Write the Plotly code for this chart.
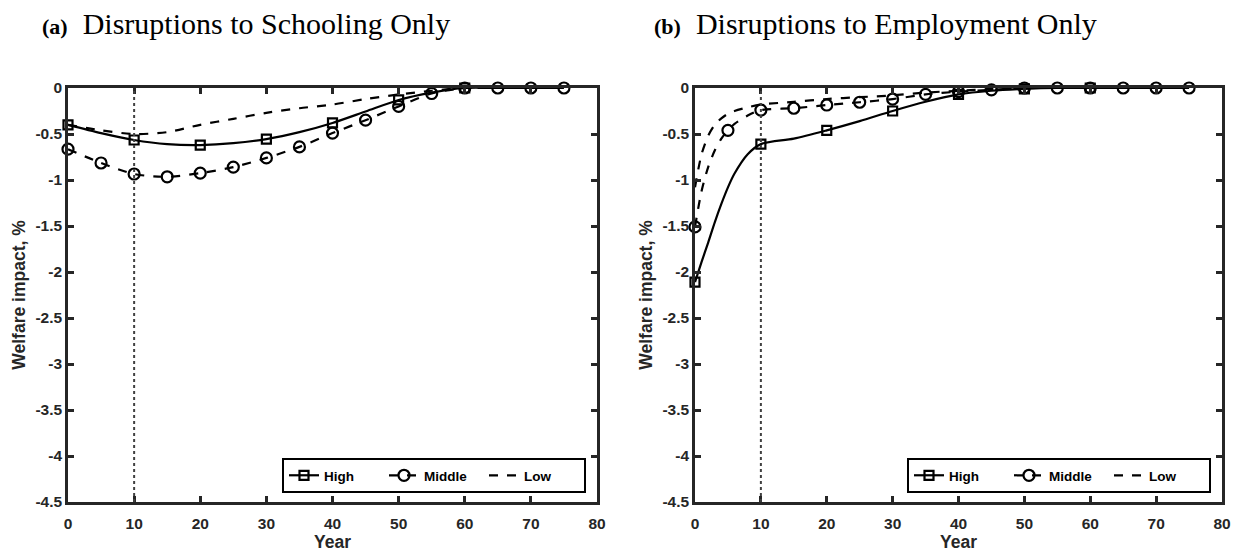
import plotly.graph_objects as go
from plotly.subplots import make_subplots

# ---------------- data ----------------
years_a = [0, 5, 10, 15, 20, 25, 30, 35, 40, 45, 50, 55, 60, 65, 70, 75]
high_a = [-0.40, -0.49, -0.565, -0.61, -0.62, -0.60, -0.555, -0.48, -0.38, -0.255, -0.13, -0.05, 0, 0, 0, 0]
middle_a = [-0.665, -0.815, -0.935, -0.965, -0.925, -0.86, -0.76, -0.64, -0.49, -0.35, -0.20, -0.06, 0, 0, 0, 0]
low_a = [-0.40, -0.46, -0.50, -0.48, -0.40, -0.335, -0.27, -0.22, -0.18, -0.12, -0.07, -0.03, 0, 0, 0, 0]

years_b = [0, 1, 2, 3, 4, 5, 6, 8, 10, 15, 20, 25, 30, 35, 40, 45, 50, 55, 60, 65, 70, 75]
high_b = [-2.11, -1.89, -1.68, -1.46, -1.26, -1.08, -0.93, -0.72, -0.61, -0.55, -0.46, -0.36, -0.25, -0.15,
          -0.07, -0.03, -0.01, 0, 0, 0, 0, 0]
middle_b = [-1.51, -1.12, -0.86, -0.68, -0.55, -0.46, -0.39, -0.30, -0.24, -0.22, -0.185, -0.155, -0.12, -0.07,
            -0.04, -0.02, 0, 0, 0, 0, 0, 0]
low_b = [-1.08, -0.72, -0.52, -0.40, -0.33, -0.28, -0.25, -0.21, -0.18, -0.15, -0.12, -0.10, -0.08, -0.05,
         -0.03, -0.01, 0, 0, 0, 0, 0, 0]

high_marker_years = [0, 10, 20, 30, 40, 50, 60]
middle_marker_years = [0, 5, 10, 15, 20, 25, 30, 35, 40, 45, 50, 55, 60, 65, 70, 75]

shock_year = 10
series_names = ["High", "Middle", "Low"]
panel_titles = ["(a)", "(b)"]
panel_subtitles = ["Disruptions to Schooling Only", "Disruptions to Employment Only"]
x_ticks = [0, 10, 20, 30, 40, 50, 60, 70, 80]
y_ticks = [0, -0.5, -1, -1.5, -2, -2.5, -3, -3.5, -4, -4.5]
y_tick_labels = ["0", "-0.5", "-1", "-1.5", "-2", "-2.5", "-3", "-3.5", "-4", "-4.5"]
x_title = "Year"
y_title = "Welfare impact, %"

# ---------------- figure ----------------
W, H = 1238, 554
fig = make_subplots(rows=1, cols=2, horizontal_spacing=0.05)

BLACK = "#000000"
AX = "#262626"
LW = 2.2

styles = {
    "High": dict(dash="solid", symbol="square-open", size=9),
    "Middle": dict(dash="dash", symbol="circle-open", size=11),
    "Low": dict(dash="dash", symbol=None, size=0),
}


def subset(xs, ys, keep):
    return [x for x in keep], [ys[xs.index(x)] for x in keep]


panels = [
    (years_a, {"High": high_a, "Middle": middle_a, "Low": low_a}),
    (years_b, {"High": high_b, "Middle": middle_b, "Low": low_b}),
]
marker_years = {"High": high_marker_years, "Middle": middle_marker_years}

for ci, (yrs, ser) in enumerate(panels, start=1):
    legend_name = "legend" if ci == 1 else "legend2"
    for name in series_names:
        st = styles[name]
        dash = st["dash"]
        fig.add_trace(go.Scatter(
            x=yrs, y=ser[name], mode="lines", line=dict(color=BLACK, width=LW, dash=dash, shape="spline",
                                                       smoothing=0.8),
            showlegend=False, hoverinfo="skip"), row=1, col=ci)
        if st["symbol"]:
            mx, my = subset(yrs, ser[name], marker_years[name])
            fig.add_trace(go.Scatter(
                x=mx, y=my, mode="markers", cliponaxis=False,
                marker=dict(symbol=st["symbol"], size=st["size"], color=BLACK, line=dict(width=2.2, color=BLACK)),
                showlegend=False, hoverinfo="skip"), row=1, col=ci)
        # legend entry
        fig.add_trace(go.Scatter(
            x=[None], y=[None], mode="lines+markers" if st["symbol"] else "lines",
            name=name, legend=legend_name,
            line=dict(color=BLACK, width=LW, dash=dash),
            marker=dict(symbol=st["symbol"] or "circle", size=st["size"] if st["symbol"] else 1, color=BLACK,
                        line=dict(width=2.2, color=BLACK)),
        ), row=1, col=ci)
    fig.add_vline(x=shock_year, line=dict(color="#404040", width=2, dash="dot"), row=1, col=ci)

dom_x1 = [68 / W, 597 / W]
dom_x2 = [695 / W, 1222 / W]
dom_y = [(H - 502) / H, (H - 88) / H]

tickfont = dict(family="Liberation Sans", size=15.5, color=AX)
titlefont = dict(family="Liberation Sans", size=17.5, color=AX)

axis_common = dict(showgrid=False, zeroline=False, showline=True, linecolor=AX, linewidth=2.5,
                   mirror="ticks", ticks="inside", ticklen=6, tickwidth=2.5, tickcolor=AX,
                   tickfont=tickfont, automargin=False)

for i, dom in [(1, dom_x1), (2, dom_x2)]:
    sx = "" if i == 1 else str(i)
    fig.layout["xaxis" + sx].update(domain=dom, range=[0, 80], tickvals=x_ticks,
                                     ticktext=["<b>%d</b>" % v for v in x_ticks],
                                     ticklabelstandoff=6,
                                     title=dict(text="<b>" + x_title + "</b>", font=titlefont, standoff=3),
                                     **axis_common)
    fig.layout["yaxis" + sx].update(domain=dom_y, range=[-4.5, 0], tickvals=y_ticks,
                                     ticktext=["<b>%s</b>" % t for t in y_tick_labels],
                                     title=dict(text="<b>" + y_title + "</b>", font=titlefont, standoff=6),
                                     **axis_common)

legend_common = dict(orientation="h", bgcolor="white", bordercolor=BLACK, borderwidth=2,
                     font=dict(family="Liberation Sans", size=13.5, color=BLACK, weight="bold"),
                     xanchor="right", yanchor="bottom", xref="paper", yref="paper",
                     entrywidth=55, entrywidthmode="pixels", tracegroupgap=0)
fig.update_layout(
    legend=dict(x=586 / W, y=(H - 493) / H, **legend_common),
    legend2=dict(x=1211 / W, y=(H - 493) / H, **legend_common),
)

title_x = [40 / W, 652 / W]
for tx, t, s in zip(title_x, panel_titles, panel_subtitles):
    fig.add_annotation(
        x=tx, y=1 - 24 / H, xref="paper", yref="paper", xanchor="left", yanchor="middle", showarrow=False,
        text="<span style='font-size:22px'><b>%s</b></span>\u00a0 %s" % (t, s),
        font=dict(family="Liberation Serif", size=30, color=BLACK))

fig.update_layout(width=W, height=H, margin=dict(l=0, r=0, t=0, b=0, pad=0, autoexpand=False),
                  plot_bgcolor="white", paper_bgcolor="white")

fig.write_html("out.html")
